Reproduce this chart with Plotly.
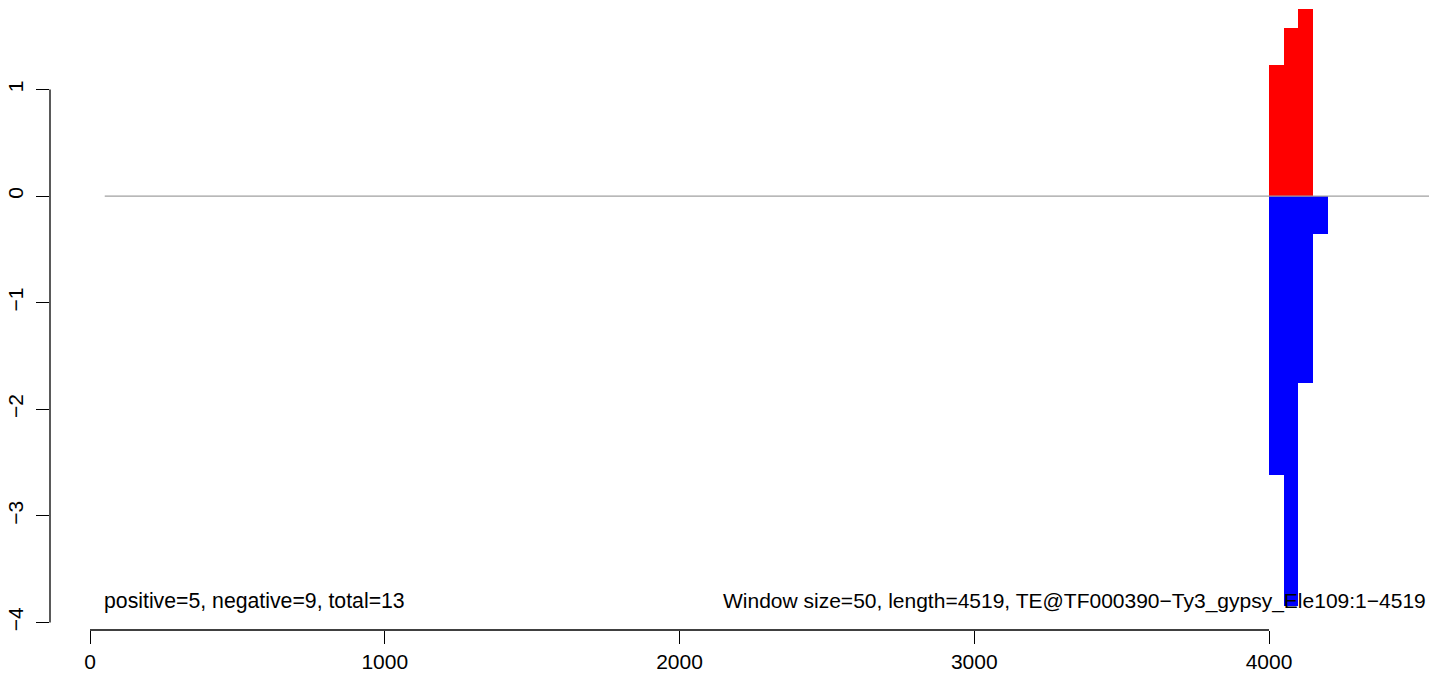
import plotly.graph_objects as go

# Data
window_size = 50
pos_starts = [4000, 4050, 4100]
pos_values = [1.23, 1.58, 1.75]
neg_starts = [4000, 4050, 4100, 4150]
neg_values = [-2.62, -3.85, -1.75, -0.36]
x_ticks = [0, 1000, 2000, 3000, 4000]
y_ticks = [-4, -3, -2, -1, 0, 1]
left_label = "positive=5, negative=9, total=13"
right_label = "Window size=50, length=4519, TE@TF000390\u2212Ty3_gypsy_Ele109:1\u22124519"

FONT = "Liberation Sans, Arial, Helvetica, sans-serif"
FS = 21

fig = go.Figure()
fig.add_trace(go.Bar(
    x=[s + window_size / 2 for s in pos_starts], y=pos_values, width=window_size,
    marker=dict(color="#ff0000", line=dict(width=0)), showlegend=False, hoverinfo="skip"))
fig.add_trace(go.Bar(
    x=[s + window_size / 2 for s in neg_starts], y=neg_values, width=window_size,
    marker=dict(color="#0000ff", line=dict(width=0)), showlegend=False, hoverinfo="skip"))

# zero reference line
fig.add_shape(type="line", xref="x", yref="y", x0=window_size, x1=4700, y0=0, y1=0,
              line=dict(color="#a0a0a0", width=1.2), layer="above")
# R-style axis lines spanning first to last tick
fig.add_shape(type="line", xref="x", yref="paper", x0=x_ticks[0], x1=x_ticks[-1], y0=0, y1=0,
              line=dict(color="black", width=1.3), layer="above")
fig.add_shape(type="line", xref="paper", yref="y", x0=0, x1=0, y0=y_ticks[0], y1=y_ticks[-1],
              line=dict(color="black", width=1.3), layer="above")

fig.add_annotation(x=40, y=-3.8, xref="x", yref="y", text=left_label,
                   showarrow=False, xanchor="left", yanchor="middle",
                   font=dict(family=FONT, size=21.25, color="black"))
fig.add_annotation(x=2140, y=-3.8, xref="x", yref="y", text=right_label,
                   showarrow=False, xanchor="left", yanchor="middle",
                   font=dict(family=FONT, size=21, color="black"))

fig.update_layout(
    width=1429, height=676,
    margin=dict(l=50, r=0, t=0, b=46),
    paper_bgcolor="white", plot_bgcolor="white",
    barmode="overlay", bargap=0,
    font=dict(family=FONT, size=FS, color="black"),
    xaxis=dict(range=[-135.7, 4542.8], tickvals=x_ticks, ticktext=[str(v) for v in x_ticks],
               ticks="outside", ticklen=13, tickwidth=1.3, tickcolor="black",
               showgrid=False, zeroline=False, showline=False,
               tickfont=dict(family=FONT, size=FS, color="black")),
    yaxis=dict(range=[-4.071, 1.839], tickvals=y_ticks, ticktext=[str(v).replace("-", "\u2212") for v in y_ticks],
               ticks="outside", ticklen=13, tickwidth=1.3, tickcolor="black", tickangle=-90,
               ticklabelstandoff=5,
               showgrid=False, zeroline=False, showline=False,
               tickfont=dict(family=FONT, size=FS, color="black")),
)

fig.write_html("out.html", config={"displayModeBar": False},
               post_script="document.body.style.margin='0px';document.body.style.overflow='hidden';")
